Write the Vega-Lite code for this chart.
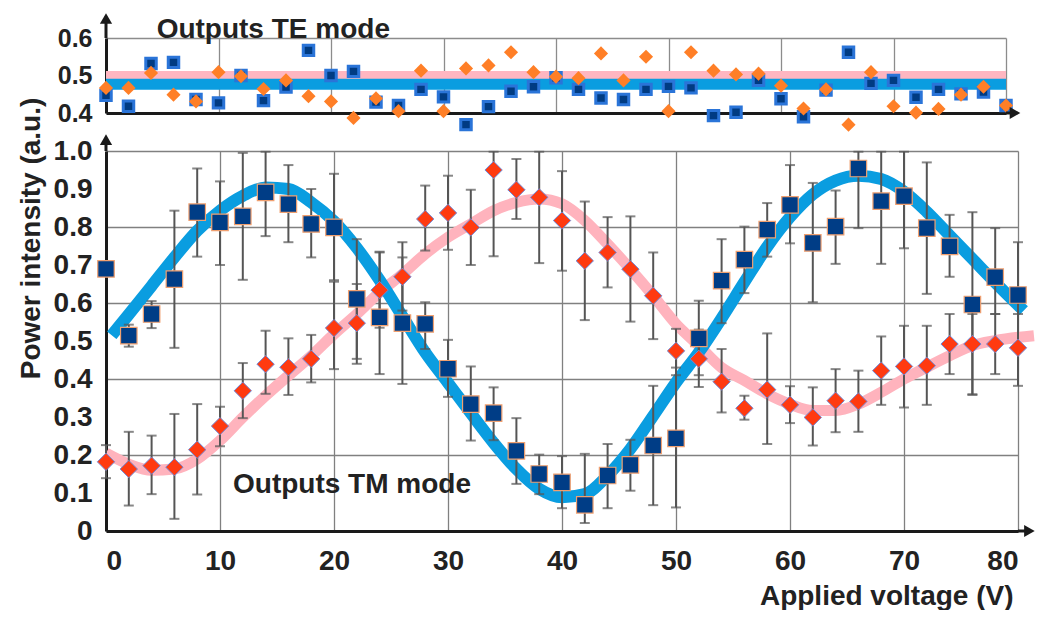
{
  "$schema": "https://vega.github.io/schema/vega-lite/v6.json",
  "background": "white",
  "padding": {"left": 16, "top": 13, "right": 0, "bottom": 0},
  "bounds": "flush",
  "spacing": 38,
  "config": {"view": {"stroke": null}, "font": "Liberation Sans"},
  "datasets": {
    "top": [
      {"v": 0, "tm": 0.447, "te": 0.467}, {"v": 2, "tm": 0.418, "te": 0.467}, {"v": 4, "tm": 0.532, "te": 0.507},
      {"v": 6, "tm": 0.535, "te": 0.449}, {"v": 8, "tm": 0.436, "te": 0.431}, {"v": 10, "tm": 0.427, "te": 0.509},
      {"v": 12, "tm": 0.5, "te": 0.498}, {"v": 14, "tm": 0.433, "te": 0.464}, {"v": 16, "tm": 0.469, "te": 0.487},
      {"v": 18, "tm": 0.567, "te": 0.445}, {"v": 20, "tm": 0.5, "te": 0.431}, {"v": 22, "tm": 0.511, "te": 0.387},
      {"v": 24, "tm": 0.429, "te": 0.439}, {"v": 26, "tm": 0.42, "te": 0.405}, {"v": 28, "tm": 0.463, "te": 0.513},
      {"v": 30, "tm": 0.443, "te": 0.405}, {"v": 32, "tm": 0.369, "te": 0.519}, {"v": 34, "tm": 0.417, "te": 0.527},
      {"v": 36, "tm": 0.458, "te": 0.562}, {"v": 38, "tm": 0.47, "te": 0.509}, {"v": 40, "tm": 0.494, "te": 0.497},
      {"v": 42, "tm": 0.463, "te": 0.493}, {"v": 44, "tm": 0.44, "te": 0.559}, {"v": 46, "tm": 0.436, "te": 0.487},
      {"v": 48, "tm": 0.463, "te": 0.55}, {"v": 50, "tm": 0.471, "te": 0.405}, {"v": 52, "tm": 0.467, "te": 0.562},
      {"v": 54, "tm": 0.393, "te": 0.513}, {"v": 56, "tm": 0.402, "te": 0.503}, {"v": 58, "tm": 0.487, "te": 0.505},
      {"v": 60, "tm": 0.438, "te": 0.473}, {"v": 62, "tm": 0.39, "te": 0.412}, {"v": 64, "tm": 0.461, "te": 0.463},
      {"v": 66, "tm": 0.562, "te": 0.369}, {"v": 68, "tm": 0.479, "te": 0.509}, {"v": 70, "tm": 0.487, "te": 0.418},
      {"v": 72, "tm": 0.442, "te": 0.401}, {"v": 74, "tm": 0.463, "te": 0.411}, {"v": 76, "tm": 0.451, "te": 0.449},
      {"v": 78, "tm": 0.456, "te": 0.47}, {"v": 80, "tm": 0.42, "te": 0.42}
    ],
    "main": [
      {"v": 0, "tm": 0.69, "tmLo": 0.69, "tmHi": 0.69, "te": 0.182, "teLo": 0.139, "teHi": 0.226},
      {"v": 2, "tm": 0.514, "tmLo": 0.485, "tmHi": 0.543, "te": 0.163, "teLo": 0.067, "teHi": 0.261},
      {"v": 4, "tm": 0.571, "tmLo": 0.534, "tmHi": 0.605, "te": 0.172, "teLo": 0.097, "teHi": 0.251},
      {"v": 6, "tm": 0.663, "tmLo": 0.482, "tmHi": 0.843, "te": 0.168, "teLo": 0.032, "teHi": 0.308},
      {"v": 8, "tm": 0.839, "tmLo": 0.722, "tmHi": 0.954, "te": 0.214, "teLo": 0.096, "teHi": 0.334},
      {"v": 10, "tm": 0.812, "tmLo": 0.7, "tmHi": 0.92, "te": 0.276, "teLo": 0.223, "teHi": 0.327},
      {"v": 12, "tm": 0.828, "tmLo": 0.661, "tmHi": 0.995, "te": 0.369, "teLo": 0.297, "teHi": 0.442},
      {"v": 14, "tm": 0.891, "tmLo": 0.776, "tmHi": 0.998, "te": 0.439, "teLo": 0.361, "teHi": 0.527},
      {"v": 16, "tm": 0.86, "tmLo": 0.76, "tmHi": 0.963, "te": 0.431, "teLo": 0.358, "teHi": 0.507},
      {"v": 18, "tm": 0.808, "tmLo": 0.72, "tmHi": 0.9, "te": 0.453, "teLo": 0.391, "teHi": 0.516},
      {"v": 20, "tm": 0.799, "tmLo": 0.66, "tmHi": 0.94, "te": 0.534, "teLo": 0.426, "teHi": 0.656},
      {"v": 22, "tm": 0.611, "tmLo": 0.453, "tmHi": 0.768, "te": 0.547, "teLo": 0.44, "teHi": 0.65},
      {"v": 24, "tm": 0.562, "tmLo": 0.413, "tmHi": 0.733, "te": 0.634, "teLo": 0.535, "teHi": 0.735},
      {"v": 26, "tm": 0.547, "tmLo": 0.387, "tmHi": 0.72, "te": 0.669, "teLo": 0.58, "teHi": 0.76},
      {"v": 28, "tm": 0.545, "tmLo": 0.479, "tmHi": 0.602, "te": 0.821, "teLo": 0.738, "teHi": 0.909},
      {"v": 30, "tm": 0.427, "tmLo": 0.353, "tmHi": 0.503, "te": 0.837, "teLo": 0.74, "teHi": 0.935},
      {"v": 32, "tm": 0.334, "tmLo": 0.238, "tmHi": 0.433, "te": 0.799, "teLo": 0.7, "teHi": 0.898},
      {"v": 34, "tm": 0.31, "tmLo": 0.239, "tmHi": 0.378, "te": 0.95, "teLo": 0.723, "teHi": 0.998},
      {"v": 36, "tm": 0.211, "tmLo": 0.124, "tmHi": 0.297, "te": 0.898, "teLo": 0.821, "teHi": 0.979},
      {"v": 38, "tm": 0.15, "tmLo": 0.097, "tmHi": 0.201, "te": 0.878, "teLo": 0.705, "teHi": 0.998},
      {"v": 40, "tm": 0.128, "tmLo": 0.06, "tmHi": 0.197, "te": 0.817, "teLo": 0.685, "teHi": 0.947},
      {"v": 42, "tm": 0.069, "tmLo": 0.021, "tmHi": 0.203, "te": 0.711, "teLo": 0.555, "teHi": 0.867},
      {"v": 44, "tm": 0.146, "tmLo": 0.06, "tmHi": 0.229, "te": 0.733, "teLo": 0.641, "teHi": 0.826},
      {"v": 46, "tm": 0.174, "tmLo": 0.106, "tmHi": 0.24, "te": 0.689, "teLo": 0.551, "teHi": 0.828},
      {"v": 48, "tm": 0.225, "tmLo": 0.068, "tmHi": 0.382, "te": 0.619, "teLo": 0.505, "teHi": 0.733},
      {"v": 50, "tm": 0.244, "tmLo": 0.062, "tmHi": 0.43, "te": 0.474, "teLo": 0.41, "teHi": 0.532},
      {"v": 52, "tm": 0.507, "tmLo": 0.41, "tmHi": 0.606, "te": 0.453, "teLo": 0.379, "teHi": 0.53},
      {"v": 54, "tm": 0.659, "tmLo": 0.547, "tmHi": 0.768, "te": 0.393, "teLo": 0.312, "teHi": 0.479},
      {"v": 56, "tm": 0.714, "tmLo": 0.626, "tmHi": 0.801, "te": 0.323, "teLo": 0.293, "teHi": 0.356},
      {"v": 58, "tm": 0.793, "tmLo": 0.722, "tmHi": 0.863, "te": 0.372, "teLo": 0.229, "teHi": 0.52},
      {"v": 60, "tm": 0.858, "tmLo": 0.757, "tmHi": 0.963, "te": 0.332, "teLo": 0.284, "teHi": 0.381},
      {"v": 62, "tm": 0.758, "tmLo": 0.602, "tmHi": 0.916, "te": 0.299, "teLo": 0.225, "teHi": 0.378},
      {"v": 64, "tm": 0.801, "tmLo": 0.703, "tmHi": 0.896, "te": 0.343, "teLo": 0.26, "teHi": 0.426},
      {"v": 66, "tm": 0.954, "tmLo": 0.797, "tmHi": 0.998, "te": 0.341, "teLo": 0.261, "teHi": 0.422},
      {"v": 68, "tm": 0.868, "tmLo": 0.703, "tmHi": 0.998, "te": 0.422, "teLo": 0.332, "teHi": 0.512},
      {"v": 70, "tm": 0.881, "tmLo": 0.744, "tmHi": 0.998, "te": 0.433, "teLo": 0.325, "teHi": 0.54},
      {"v": 72, "tm": 0.797, "tmLo": 0.624, "tmHi": 0.97, "te": 0.435, "teLo": 0.332, "teHi": 0.54},
      {"v": 74, "tm": 0.749, "tmLo": 0.669, "tmHi": 0.832, "te": 0.492, "teLo": 0.413, "teHi": 0.571},
      {"v": 76, "tm": 0.596, "tmLo": 0.36, "tmHi": 0.839, "te": 0.492, "teLo": 0.358, "teHi": 0.571},
      {"v": 78, "tm": 0.668, "tmLo": 0.571, "tmHi": 0.797, "te": 0.492, "teLo": 0.413, "teHi": 0.571},
      {"v": 80, "tm": 0.621, "tmLo": 0.48, "tmHi": 0.76, "te": 0.482, "teLo": 0.382, "teHi": 0.571}
    ],
    "fitTM": [
      {"v": 0.5, "y": 0.515}, {"v": 2, "y": 0.57}, {"v": 4, "y": 0.645}, {"v": 6, "y": 0.72}, {"v": 8, "y": 0.79},
      {"v": 10, "y": 0.843}, {"v": 12, "y": 0.882}, {"v": 14, "y": 0.904}, {"v": 16, "y": 0.9}, {"v": 18, "y": 0.865},
      {"v": 20, "y": 0.815}, {"v": 22, "y": 0.745}, {"v": 24, "y": 0.66}, {"v": 26, "y": 0.565}, {"v": 28, "y": 0.47},
      {"v": 30, "y": 0.39}, {"v": 32, "y": 0.31}, {"v": 34, "y": 0.232}, {"v": 36, "y": 0.163}, {"v": 38, "y": 0.111},
      {"v": 40, "y": 0.089}, {"v": 42, "y": 0.097}, {"v": 44, "y": 0.146}, {"v": 46, "y": 0.216}, {"v": 48, "y": 0.303},
      {"v": 50, "y": 0.391}, {"v": 52, "y": 0.47}, {"v": 54, "y": 0.56}, {"v": 56, "y": 0.655}, {"v": 58, "y": 0.748},
      {"v": 60, "y": 0.826}, {"v": 62, "y": 0.886}, {"v": 64, "y": 0.922}, {"v": 66, "y": 0.935}, {"v": 68, "y": 0.926},
      {"v": 70, "y": 0.893}, {"v": 72, "y": 0.84}, {"v": 74, "y": 0.778}, {"v": 76, "y": 0.716}, {"v": 78, "y": 0.654},
      {"v": 80.5, "y": 0.58}
    ],
    "fitTE": [
      {"v": 0, "y": 0.205}, {"v": 2, "y": 0.176}, {"v": 4, "y": 0.16}, {"v": 6, "y": 0.163}, {"v": 8, "y": 0.189},
      {"v": 10, "y": 0.238}, {"v": 12, "y": 0.299}, {"v": 14, "y": 0.356}, {"v": 16, "y": 0.409}, {"v": 18, "y": 0.461},
      {"v": 20, "y": 0.518}, {"v": 22, "y": 0.571}, {"v": 24, "y": 0.628}, {"v": 26, "y": 0.676}, {"v": 28, "y": 0.729},
      {"v": 30, "y": 0.773}, {"v": 32, "y": 0.808}, {"v": 34, "y": 0.843}, {"v": 36, "y": 0.865}, {"v": 38, "y": 0.874},
      {"v": 40, "y": 0.861}, {"v": 42, "y": 0.817}, {"v": 44, "y": 0.755}, {"v": 46, "y": 0.689}, {"v": 48, "y": 0.619},
      {"v": 50, "y": 0.545}, {"v": 52, "y": 0.488}, {"v": 54, "y": 0.43}, {"v": 56, "y": 0.396}, {"v": 58, "y": 0.361},
      {"v": 60, "y": 0.334}, {"v": 62, "y": 0.317}, {"v": 64, "y": 0.317}, {"v": 66, "y": 0.334}, {"v": 68, "y": 0.365},
      {"v": 70, "y": 0.4}, {"v": 72, "y": 0.431}, {"v": 74, "y": 0.461}, {"v": 76, "y": 0.488}, {"v": 78, "y": 0.501},
      {"v": 81.4, "y": 0.514}
    ]
  },
  "vconcat": [
    {
      "width": 900,
      "height": 75,
      "encoding": {
        "x": {"type": "quantitative", "title": null, "scale": {"domain": [0, 80], "nice": false, "zero": false},
          "axis": {"labels": false, "ticks": false, "values": [0, 10, 20, 30, 40, 50, 60, 70, 80], "grid": true, "gridColor": "#8c8c8c", "gridWidth": 1.3, "domainColor": "#1a1a1a", "domainWidth": 3}},
        "y": {"type": "quantitative", "title": null, "scale": {"domain": [0.4, 0.6], "nice": false, "zero": false},
          "axis": {"values": [0.4, 0.5, 0.6], "format": ".1f", "labelFont": "Liberation Sans", "labelFontWeight": "bold", "labelFontSize": 25, "labelColor": "#222222", "labelPadding": 14, "ticks": false, "grid": true, "gridColor": "#8c8c8c", "gridWidth": 1.3, "domainColor": "#1a1a1a", "domainWidth": 3}}
      },
      "layer": [
        {
          "data": {"values": [{}]},
          "mark": {"type": "rule", "color": "#ffb6c1", "strokeWidth": 9},
          "encoding": {"x": {"datum": 0}, "x2": {"datum": 80}, "y": {"datum": 0.5}}
        },
        {
          "data": {"values": [{}]},
          "mark": {"type": "rule", "color": "#0a9de0", "strokeWidth": 11},
          "encoding": {"x": {"datum": 0}, "x2": {"datum": 80}, "y": {"datum": 0.477}}
        },
        {
          "data": {"name": "top"},
          "mark": {"type": "point", "shape": "square", "filled": true, "size": 110, "color": "#003b82", "stroke": "#2a74d8", "strokeWidth": 3, "opacity": 1},
          "encoding": {"x": {"field": "v"}, "y": {"field": "tm"}}
        },
        {
          "data": {"name": "top"},
          "mark": {"type": "point", "shape": "diamond", "filled": true, "size": 200, "color": "#ff7f27", "opacity": 1},
          "encoding": {"x": {"field": "v"}, "y": {"field": "te"}}
        },
        {
          "data": {"values": [{}]},
          "mark": {"type": "rule", "color": "#1a1a1a", "strokeWidth": 3},
          "encoding": {"x": {"datum": 0}, "y": {"datum": 0.6}, "y2": {"datum": 0.652}}
        },
        {
          "data": {"values": [{}]},
          "mark": {"type": "rule", "color": "#1a1a1a", "strokeWidth": 3},
          "encoding": {"x": {"datum": 80}, "x2": {"datum": 80.8}, "y": {"datum": 0.4}}
        },
        {
          "data": {"values": [{}]},
          "mark": {"type": "point", "shape": "triangle-up", "filled": true, "size": 150, "color": "#1a1a1a", "opacity": 1},
          "encoding": {"x": {"datum": 0}, "y": {"datum": 0.652}}
        },
        {
          "data": {"values": [{}]},
          "mark": {"type": "point", "shape": "triangle-right", "filled": true, "size": 150, "color": "#1a1a1a", "opacity": 1},
          "encoding": {"x": {"datum": 80.8}, "y": {"datum": 0.4}}
        },
        {
          "data": {"values": [{}]},
          "mark": {"type": "text", "text": "Outputs TE mode", "font": "Liberation Sans", "fontWeight": "bold", "fontSize": 28, "color": "#222222", "align": "left", "baseline": "alphabetic"},
          "encoding": {"x": {"datum": 4.5}, "y": {"datum": 0.6}}
        }
      ]
    },
    {
      "width": 912,
      "height": 380,
      "encoding": {
        "x": {"type": "quantitative", "title": "Applied voltage (V)", "scale": {"domain": [0, 80], "nice": false, "zero": false},
          "axis": {"values": [0, 10, 20, 30, 40, 50, 60, 70, 80], "labelFont": "Liberation Sans", "labelFontWeight": "bold", "labelFontSize": 28, "labelColor": "#222222", "labelPadding": 16, "ticks": false, "grid": true, "gridColor": "#808080", "gridWidth": 1.3, "domainColor": "#1a1a1a", "domainWidth": 3,
            "titleFont": "Liberation Sans", "titleFontWeight": "bold", "titleFontSize": 28, "titleColor": "#222222", "titleAlign": "right", "titleAnchor": "end", "titleBaseline": "alphabetic", "titleX": 907, "titleY": 73}},
        "y": {"type": "quantitative", "title": "Power intensity (a.u.)", "scale": {"domain": [0, 1], "nice": false, "zero": false},
          "axis": {"values": [0, 0.1, 0.2, 0.3, 0.4, 0.5, 0.6, 0.7, 0.8, 0.9, 1.0], "labelExpr": "datum.value == 0 ? '0' : format(datum.value, '.1f')", "labelFont": "Liberation Sans", "labelFontWeight": "bold", "labelFontSize": 28, "labelColor": "#222222", "labelPadding": 14, "ticks": false, "grid": true, "gridColor": "#808080", "gridWidth": 1.3,
            "gridOpacity": {"condition": {"test": "round(datum.value * 10) % 2 == 0", "value": 1}, "value": 0},
            "domainColor": "#1a1a1a", "domainWidth": 3,
            "titleFont": "Liberation Sans", "titleFontWeight": "bold", "titleFontSize": 28, "titleColor": "#222222", "titleAngle": 270, "titleAlign": "center", "titleBaseline": "alphabetic", "titleX": -67, "titleY": 87}}
      },
      "layer": [
        {
          "data": {"name": "fitTE"},
          "mark": {"type": "line", "color": "#ffb3bd", "strokeWidth": 11, "interpolate": "monotone"},
          "encoding": {"x": {"field": "v"}, "y": {"field": "y"}}
        },
        {
          "data": {"name": "fitTM"},
          "mark": {"type": "line", "color": "#0a9de0", "strokeWidth": 12, "interpolate": "monotone"},
          "encoding": {"x": {"field": "v"}, "y": {"field": "y"}}
        },
        {
          "data": {"name": "main"},
          "mark": {"type": "errorbar", "color": "#555555", "thickness": 2, "ticks": {"size": 10, "thickness": 2, "color": "#555555"}},
          "encoding": {"x": {"field": "v"}, "y": {"field": "tmLo"}, "y2": {"field": "tmHi"}}
        },
        {
          "data": {"name": "main"},
          "mark": {"type": "errorbar", "color": "#555555", "thickness": 2, "ticks": {"size": 10, "thickness": 2, "color": "#555555"}},
          "encoding": {"x": {"field": "v"}, "y": {"field": "teLo"}, "y2": {"field": "teHi"}}
        },
        {
          "data": {"name": "main"},
          "mark": {"type": "point", "shape": "diamond", "filled": true, "size": 300, "color": "#ff3a10", "stroke": "#7088d8", "strokeWidth": 1, "opacity": 1},
          "encoding": {"x": {"field": "v"}, "y": {"field": "te"}}
        },
        {
          "data": {"name": "main"},
          "mark": {"type": "point", "shape": "square", "filled": true, "size": 272, "color": "#003d86", "stroke": "#f0a070", "strokeWidth": 1.2, "opacity": 1},
          "encoding": {"x": {"field": "v"}, "y": {"field": "tm"}}
        },
        {
          "data": {"values": [{}]},
          "mark": {"type": "rule", "color": "#1a1a1a", "strokeWidth": 3},
          "encoding": {"x": {"datum": 0}, "y": {"datum": 1.0}, "y2": {"datum": 1.03}}
        },
        {
          "data": {"values": [{}]},
          "mark": {"type": "rule", "color": "#1a1a1a", "strokeWidth": 3},
          "encoding": {"x": {"datum": 80}, "x2": {"datum": 81}, "y": {"datum": 0}}
        },
        {
          "data": {"values": [{}]},
          "mark": {"type": "point", "shape": "triangle-up", "filled": true, "size": 150, "color": "#1a1a1a", "opacity": 1},
          "encoding": {"x": {"datum": 0}, "y": {"datum": 1.03}}
        },
        {
          "data": {"values": [{}]},
          "mark": {"type": "point", "shape": "triangle-right", "filled": true, "size": 150, "color": "#1a1a1a", "opacity": 1},
          "encoding": {"x": {"datum": 81}, "y": {"datum": 0}}
        },
        {
          "data": {"values": [{}]},
          "mark": {"type": "text", "text": "Outputs TM mode", "font": "Liberation Sans", "fontWeight": "bold", "fontSize": 28, "color": "#222222", "align": "left", "baseline": "alphabetic"},
          "encoding": {"x": {"datum": 11.14}, "y": {"datum": 0.099}}
        }
      ]
    }
  ]
}
